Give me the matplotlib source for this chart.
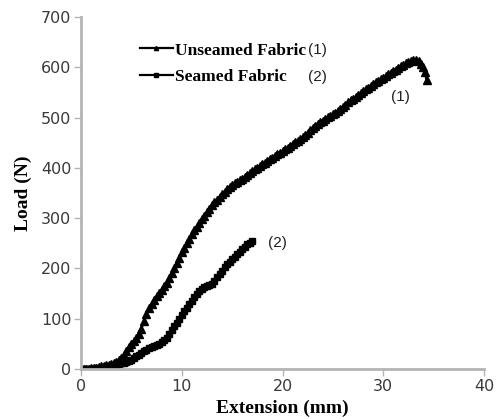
#!/usr/bin/env python3
"""
Load vs extension curves for unseamed and seamed fabric
"""

import matplotlib
matplotlib.use('Agg')
import matplotlib.pyplot as plt

# unseamed fabric (1)
ext_unseamed = [0, 0.25, 0.5, 0.75, 1, 1.25, 1.5, 1.75, 2, 2.25, 2.5, 2.75, 3, 3.25, 3.5, 3.75,
                4, 4.25, 4.5, 4.75, 5, 5.25, 5.5, 5.75, 6, 6.25, 6.5, 6.75, 7, 7.25, 7.5, 7.75,
                8, 8.25, 8.5, 8.75, 9, 9.25, 9.5, 9.75, 10, 10.25, 10.5, 10.75, 11, 11.25,
                11.5, 11.75, 12, 12.25, 12.5, 12.75, 13, 13.25, 13.5, 13.75, 14, 14.25, 14.5,
                14.75, 15, 15.25, 15.5, 15.75, 16, 16.25, 16.5, 16.75, 17, 17.25, 17.5, 17.75,
                18, 18.25, 18.5, 18.75, 19, 19.25, 19.5, 19.75, 20, 20.25, 20.5, 20.75, 21,
                21.25, 21.5, 21.75, 22, 22.25, 22.5, 22.75, 23, 23.25, 23.5, 23.75, 24, 24.25,
                24.5, 24.75, 25, 25.25, 25.5, 25.75, 26, 26.25, 26.5, 26.75, 27, 27.25, 27.5,
                27.75, 28, 28.25, 28.5, 28.75, 29, 29.25, 29.5, 29.75, 30, 30.25, 30.5, 30.75,
                31, 31.25, 31.5, 31.75, 32, 32.25, 32.5, 32.75, 33, 33.25, 33.5, 33.7, 33.9,
                34.1, 34.3]
load_unseamed = [0, 0, 1, 1, 2, 2, 3, 4, 5, 6, 7, 8, 10, 12, 14, 17,
                 22, 28, 35, 43, 50, 56, 62, 70, 80, 95, 110, 121, 130, 138, 145, 152,
                 158, 165, 172, 181, 190, 200, 210, 221, 232, 241, 250, 259, 268, 276,
                 283, 291, 298, 305, 312, 319, 326, 332, 337, 343, 348, 353, 357,
                 361, 365, 369, 372, 375, 378, 382, 386, 390, 393, 397, 400, 404,
                 407, 410, 413, 417, 420, 424, 427, 430, 433, 437, 440, 444, 447,
                 451, 454, 457, 461, 466, 470, 475, 479, 483, 487, 491, 494, 498,
                 501, 504, 507, 510, 514, 518, 522, 526, 530, 534, 537, 541, 545,
                 549, 552, 556, 559, 563, 566, 570, 573, 576, 579, 583, 586, 589,
                 592, 595, 598, 602, 605, 608, 610, 613, 615, 614, 612, 607, 601,
                 590, 575]

# seamed fabric (2)
ext_seamed = [0, 0.25, 0.5, 0.75, 1, 1.25, 1.5, 1.75, 2, 2.25, 2.5, 2.75, 3, 3.25, 3.5, 3.75,
              4, 4.25, 4.5, 4.75, 5, 5.25, 5.5, 5.75, 6, 6.25, 6.5, 6.75, 7, 7.25, 7.5, 7.75,
              8, 8.25, 8.5, 8.75, 9, 9.25, 9.5, 9.75, 10, 10.25, 10.5, 10.75, 11, 11.25,
              11.5, 11.75, 12, 12.25, 12.5, 12.75, 13, 13.25, 13.5, 13.75, 14, 14.25, 14.5,
              14.75, 15, 15.25, 15.5, 15.75, 16, 16.25, 16.5, 16.75, 17]
load_seamed = [0, 0, 0, 1, 1, 1, 2, 2, 3, 3, 4, 5, 6, 7, 8, 9,
               11, 12, 14, 16, 18, 21, 25, 28, 32, 35, 38, 41, 43, 46, 48, 50,
               53, 57, 62, 70, 78, 85, 92, 100, 108, 115, 122, 129, 136, 143,
               150, 155, 160, 163, 165, 167, 170, 176, 182, 188, 195, 202, 208,
               213, 218, 223, 228, 233, 238, 243, 248, 251, 254]

x_ticks = [0, 10, 20, 30, 40]
y_ticks = [0, 100, 200, 300, 400, 500, 600, 700]

SERIF = 'Liberation Serif'
AXIS_GRAY = '#b4b4b4'
TICK_COLOR = '#3a3a3a'

fig = plt.figure(figsize=(5.0, 4.19), dpi=100)
ax = fig.add_axes([0.162, 0.1193, 0.806, 0.8401])

l1, = ax.plot(ext_unseamed, load_unseamed, color='black', lw=1.6, marker='^',
              markersize=5.5, label='Unseamed Fabric')
l2, = ax.plot(ext_seamed, load_seamed, color='black', lw=1.6, marker='s',
              markersize=4, label='Seamed Fabric')

ax.set_xlim(0, 40)
ax.set_ylim(0, 700)
ax.set_xticks(x_ticks)
ax.set_yticks(y_ticks)
ax.tick_params(axis='both', direction='out', length=5, width=1, color=AXIS_GRAY,
               labelsize=11.5, labelcolor=TICK_COLOR, pad=2)

for side in ['top', 'right']:
    ax.spines[side].set_visible(False)
for side in ['left', 'bottom']:
    ax.spines[side].set_color(AXIS_GRAY)
    ax.spines[side].set_linewidth(2)

ax.set_xlabel('Extension (mm)', fontsize=14, fontweight='bold', family=SERIF, labelpad=4)
ax.set_ylabel('Load (N)', fontsize=14, fontweight='bold', family=SERIF, labelpad=6)

leg = ax.legend(handles=[l1, l2], loc='upper left', bbox_to_anchor=(0.146, 0.928),
                frameon=False, borderpad=0, borderaxespad=0, handlelength=1.9,
                handletextpad=0.15, markerscale=0.55, labelspacing=0.62,
                prop={'family': SERIF, 'weight': 'bold', 'size': 12.5})

ax.text(0.563, 0.906, '(1)', transform=ax.transAxes, fontsize=11, color='#202020',
        family='Liberation Sans', va='center')
ax.text(0.563, 0.830, '(2)', transform=ax.transAxes, fontsize=11, color='#202020',
        family='Liberation Sans', va='center')

ax.text(31.7, 541, '(1)', fontsize=11, color='#202020', family='Liberation Sans',
        ha='center', va='center')
ax.text(19.5, 250, '(2)', fontsize=11, color='#202020', family='Liberation Sans',
        ha='center', va='center')

plt.savefig('out.png', dpi=100)
plt.close()
